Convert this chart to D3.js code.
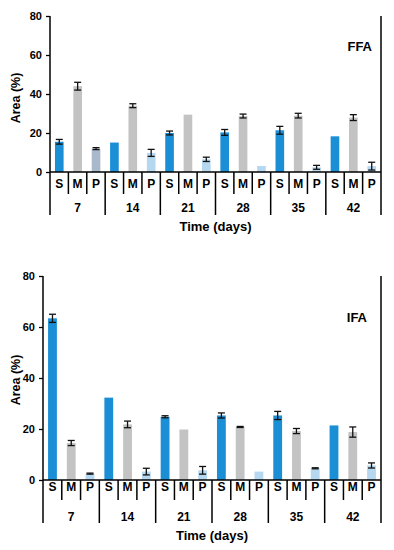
<!DOCTYPE html>
<html>
<head>
<meta charset="utf-8">
<script src="https://cdn.jsdelivr.net/npm/d3@7"></script>
<style>
  body { margin: 0; background: #fff; }
  text { font-family: "Liberation Sans", Arial, sans-serif; font-weight: bold; fill: #000; }
</style>
</head>
<body>
<svg width="394" height="550"></svg>
<script>
// data
const days = ["7", "14", "21", "28", "35", "42"];
const fractions = ["S", "M", "P"];
const yTicks = [0, 20, 40, 60, 80];

// FFA panel, per day: S, M, P
const ffaValues = [15.5, 44, 12, 15.1, 34, 9.8, 20, 29.4, 6.5, 20.3, 28.7, 3.1, 21.4, 28.9, 2.4, 18.3, 27.9, 3];
const ffaErrors = [1.2, 2, 0.5, 0, 1, 1.8, 1, 0, 1.1, 1.5, 1, 0, 2, 1.2, 1, 0, 1.5, 2];
// IFA panel
const ifaValues = [63.4, 14.5, 2.5, 32.3, 21.8, 3.3, 24.8, 19.8, 3.8, 25.3, 20.8, 3.3, 25.3, 19.2, 4.6, 21.4, 18.8, 5.7];
const ifaErrors = [1.6, 1, 0.2, 0, 1.3, 1.3, 0.4, 0, 1.5, 1, 0.2, 0, 1.6, 1, 0.2, 0, 2, 1];

const colors = {S: "#1b8fd6", M: "#c3c3c3", P: "#b5d8f0"};
const ffaP7Color = "#a8b9cb";

const svg = d3.select("svg");

function drawPanel(cfg) {
    const g = svg.append("g");

    const slots = [];
    days.forEach(d => fractions.forEach(f => slots.push(d + "-" + f)));

    const x = d3.scaleBand()
        .domain(slots)
        .range([cfg.left, cfg.right])
        .paddingInner(0.53)
        .paddingOuter(0.27);

    const y = d3.scaleLinear()
        .domain([0, 80])
        .range([cfg.bottom, cfg.top]);

    const step = x.step();
    const edge = i => cfg.left + i * (cfg.right - cfg.left) / slots.length;

    // bars
    g.selectAll("rect.bar").data(cfg.values)
        .enter().append("rect")
        .attr("class", "bar")
        .attr("x", (d, i) => x(slots[i]))
        .attr("y", d => y(d))
        .attr("width", x.bandwidth())
        .attr("height", d => cfg.bottom - y(d))
        .attr("fill", (d, i) => (cfg.p7 && i === 2) ? cfg.p7 : colors[fractions[i % 3]]);

    // error bars
    const errs = cfg.values.map((v, i) => ({v: v, e: cfg.errors[i], k: slots[i]})).filter(d => d.e > 0);
    const cap = 3.5;
    const eb = g.selectAll("g.err").data(errs).enter().append("g")
        .attr("stroke", "#111").attr("stroke-width", 1.3);
    eb.append("line")
        .attr("x1", d => x(d.k) + x.bandwidth() / 2).attr("x2", d => x(d.k) + x.bandwidth() / 2)
        .attr("y1", d => y(d.v - d.e)).attr("y2", d => y(d.v + d.e));
    eb.append("line")
        .attr("x1", d => x(d.k) + x.bandwidth() / 2 - cap).attr("x2", d => x(d.k) + x.bandwidth() / 2 + cap)
        .attr("y1", d => y(d.v + d.e)).attr("y2", d => y(d.v + d.e));
    eb.append("line")
        .attr("x1", d => x(d.k) + x.bandwidth() / 2 - cap).attr("x2", d => x(d.k) + x.bandwidth() / 2 + cap)
        .attr("y1", d => y(d.v - d.e)).attr("y2", d => y(d.v - d.e));

    // y axis
    const yAxis = g.append("g")
        .attr("transform", `translate(${cfg.left},0)`)
        .call(d3.axisLeft(y).tickValues(yTicks).tickSize(4).tickPadding(4));
    yAxis.select(".domain").remove();
    yAxis.selectAll("text").style("font-size", "11px").attr("font-family", null);
    yAxis.selectAll("line").attr("stroke", "#000").attr("stroke-width", 1.3);

    const lineAttrs = sel => sel.attr("stroke", "#000").attr("stroke-width", 1.5);

    // frame: left, right, baseline
    lineAttrs(g.append("line").attr("x1", cfg.left).attr("x2", cfg.left).attr("y1", cfg.top).attr("y2", cfg.groupBottom));
    lineAttrs(g.append("line").attr("x1", cfg.right).attr("x2", cfg.right).attr("y1", cfg.top).attr("y2", cfg.groupBottom));
    lineAttrs(g.append("line").attr("x1", cfg.left).attr("x2", cfg.right).attr("y1", cfg.bottom).attr("y2", cfg.bottom));

    // category separators
    for (let i = 1; i < slots.length; i++) {
        const isGroup = i % 3 === 0;
        lineAttrs(g.append("line")
            .attr("x1", edge(i)).attr("x2", edge(i))
            .attr("y1", cfg.bottom)
            .attr("y2", isGroup ? cfg.groupBottom : cfg.labelBottom));
    }

    // fraction labels
    g.selectAll("text.frac").data(slots).enter().append("text")
        .attr("x", (d, i) => edge(i) + step / 2)
        .attr("y", cfg.labelY)
        .attr("text-anchor", "middle")
        .attr("dominant-baseline", "central")
        .style("font-size", "12px")
        .text(d => d.split("-")[1]);

    // day labels
    g.selectAll("text.day").data(days).enter().append("text")
        .attr("x", (d, i) => edge(i * 3) + step * 1.5)
        .attr("y", cfg.groupY)
        .attr("text-anchor", "middle")
        .attr("dominant-baseline", "central")
        .style("font-size", "12px")
        .text(d => d);

    // axis titles
    g.append("text")
        .attr("x", (cfg.left + cfg.right) / 2)
        .attr("y", cfg.titleY)
        .attr("text-anchor", "middle")
        .attr("dominant-baseline", "central")
        .style("font-size", "13px")
        .text("Time (days)");

    g.append("text")
        .attr("transform", `translate(16,${cfg.yLabelY}) rotate(-90)`)
        .attr("text-anchor", "middle")
        .attr("dominant-baseline", "central")
        .style("font-size", "12.5px")
        .text("Area (%)");

    g.append("text")
        .attr("x", cfg.tagX)
        .attr("y", cfg.tagY)
        .attr("text-anchor", "end")
        .attr("dominant-baseline", "central")
        .style("font-size", "13px")
        .text(cfg.tag);
}

drawPanel({
    values: ffaValues, errors: ffaErrors, p7: ffaP7Color, tag: "FFA",
    left: 50, right: 381, top: 16, bottom: 172,
    labelY: 184, labelBottom: 194, groupY: 208, groupBottom: 215,
    titleY: 226, yLabelY: 98, tagX: 372, tagY: 46
});

drawPanel({
    values: ifaValues, errors: ifaErrors, p7: null, tag: "IFA",
    left: 43, right: 381, top: 276, bottom: 480,
    labelY: 487, labelBottom: 500, groupY: 517, groupBottom: 523,
    titleY: 535, yLabelY: 380, tagX: 367, tagY: 317
});
</script>
</body>
</html>
